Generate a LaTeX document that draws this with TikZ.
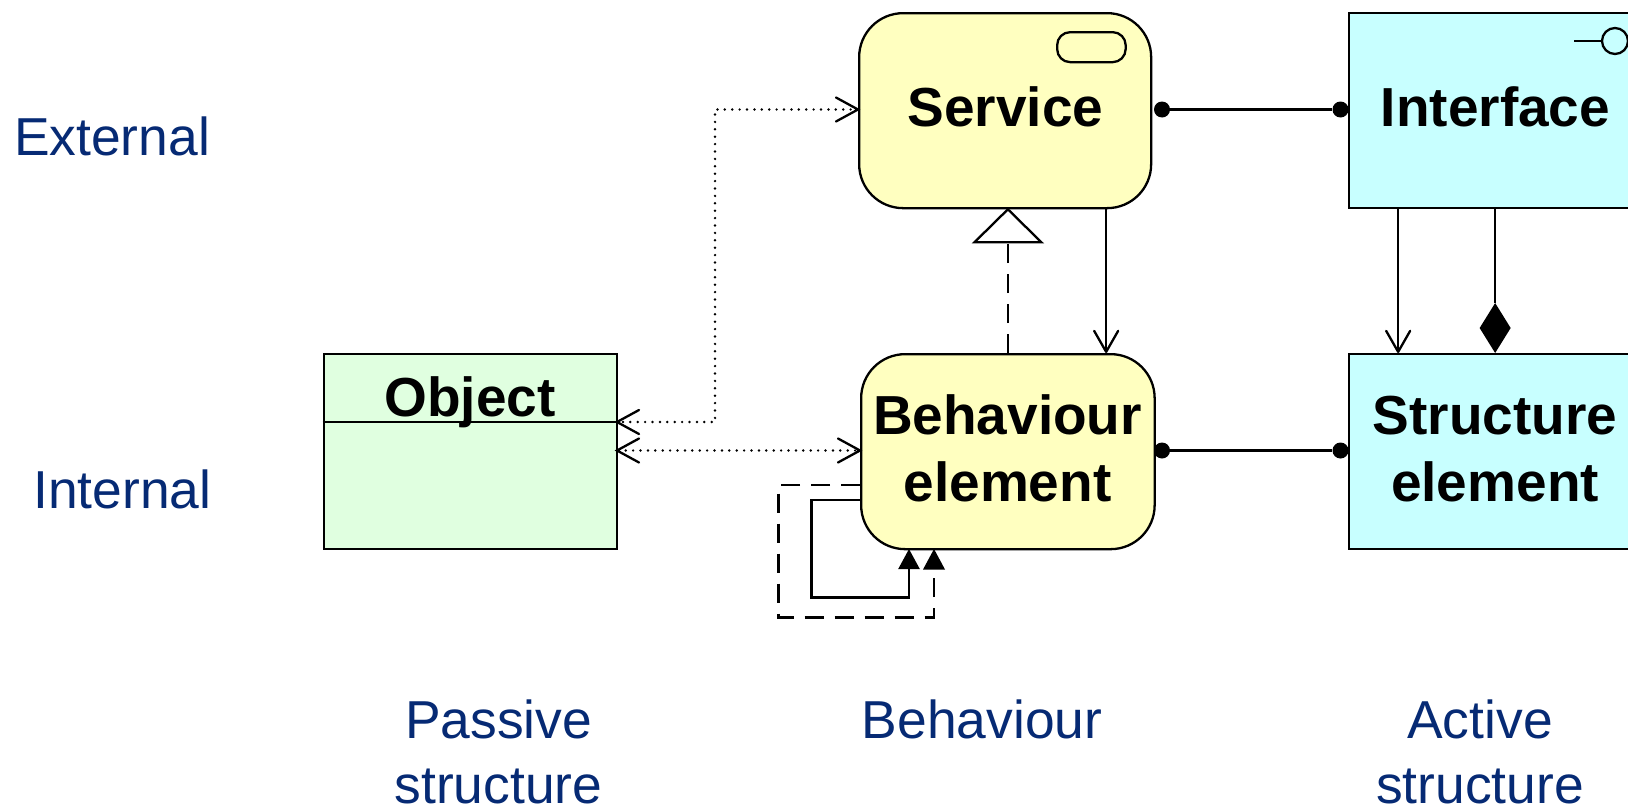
\documentclass[tikz,border=0pt]{standalone}
\usepackage{fontspec}
\setmainfont{Liberation Sans}
\usetikzlibrary{calc,arrows.meta}
\definecolor{yel}{HTML}{FFFFC0}
\definecolor{cya}{HTML}{C8FFFF}
\definecolor{grn}{HTML}{E0FFE0}
\definecolor{navy}{HTML}{062A74}
\tikzset{
  x=1pt,y=-1pt,
  ln/.style={line width=2.3pt,black},
  box/.style={draw=black,line width=2.3pt,inner sep=0pt,anchor=north west},
  svcbox/.style={box,fill=yel,rounded corners=44pt},
  actbox/.style={box,fill=cya},
  pasbox/.style={box,fill=grn},
  ttl/.style={font=\fontsize{55}{65}\selectfont\bfseries,anchor=base,inner sep=0pt,text=black},
  lab/.style={font=\fontsize{53.4}{65}\selectfont,anchor=base,inner sep=0pt,text=navy},
  opena/.style={-{Straight Barb[length=21pt,width=24pt,line width=2.3pt,round]}},
  dots/.style={line width=2.7pt,black,dash pattern=on 0pt off 7.4pt,line cap=round},
  dash1/.style={ln,dash pattern=on 19pt off 11pt},
  filla/.style={-{Triangle[length=20pt,width=21pt,fill=black]}},
  dotn/.style={circle,fill=black,inner sep=0pt,minimum size=16pt},
}
\begin{document}
\begin{tikzpicture}
\clip (0,0) rectangle (1628,806);
\path[fill=white] (0,0) rectangle (1628,806);
% boxes
\node[svcbox,minimum width=292pt,minimum height=195pt] (svc) at (858,12) {};
\node[svcbox,minimum width=293.5pt,minimum height=195pt] (beh) at (860,353) {};
\node[actbox,minimum width=292pt,minimum height=195pt] (ifc) at (1348,12) {};
\node[actbox,minimum width=292pt,minimum height=195pt] (str) at (1348,353) {};
\node[pasbox,minimum width=293.5pt,minimum height=195pt] (obj) at (322.5,353) {};
\draw[ln] (obj.west |- 0,422) coordinate (d1) -- (obj.east |- 0,422) coordinate (objd);
% icons
\node[draw=black,line width=2.3pt,rounded corners=13pt,minimum width=68.5pt,minimum height=30pt,inner sep=0pt,anchor=north west] (ico) at (1056,31) {};
\node[draw=black,line width=2.3pt,circle,inner sep=0pt,minimum size=26pt] (ici) at (1615,41) {};
\coordinate (icl) at (1574,41);
\draw[ln] (icl) -- (ici.west);
% titles
\node[ttl] (t1) at (1005.5,126) {Service};
\node[ttl] (t2) at (1495.5,126) {Interface};
\node[ttl] (t3) at (470,416.5) {Object};
\node[ttl] (t4) at (1007.5,434.5) {Behaviour};
\node[ttl] (t5) at (1007.5,501.5) {element};
\node[ttl] (t6) at (1495,434.5) {Structure};
\node[ttl] (t7) at (1495,501.5) {element};
% labels
\node[lab] (l1) at (112,155.5) {External};
\node[lab] (l2) at (122.5,508.5) {Internal};
\node[lab] (l3) at (498.5,738.5) {Passive};
\node[lab] (l4) at (498.5,803.5) {structure};
\node[lab] (l5) at (982,738.5) {Behaviour};
\node[lab] (l6) at (1480,738.5) {Active};
\node[lab] (l7) at (1480,803.5) {structure};
% assignment
\node[dotn] (a1) at (1162,109.5) {};
\node[dotn] (a2) at (1340.5,109.5) {};
\draw[ln] (a1) -- (a2);
\node[dotn] (b1) at (1162,450.5) {};
\node[dotn] (b2) at (1340.5,450.5) {};
\draw[ln] (b1) -- (b2);
% used by
\coordinate (u1) at ([xshift=101pt]svc.south);
\draw[ln,opena] (u1) -- (u1 |- beh.north);
\draw[ln,opena] ([xshift=-97pt]ifc.south) -- ([xshift=-97pt]str.north);
% composition
\coordinate (ct) at ([yshift=50pt]str.north);
\draw[ln] (ifc.south) -- (ct);
\fill[black] (str.north) -- ++(-15.5,-25) -- ++(15.5,-25) -- ++(15.5,25) -- cycle;
% realisation
\draw[dash1] (beh.north) -- (beh.north |- svc.south);
\draw[ln,fill=white,line join=miter] (svc.south -| beh.north) -- ++(-33.5,33) -- ++(67,0) -- cycle;
% access
\coordinate (p1) at (715,109.5);
\coordinate (p2) at (715,422);
\draw[dots] (svc.west |- p1) -- (p1) -- (p2) -- (obj.east |- p2);
\draw[ln,line cap=round] (836,97.5) -- (858,109.5) -- (836,121.5);
\draw[dots] (obj.east |- 0,450.5) -- (beh.west |- 0,450.5);
\foreach \yy in {422,450.5}{\draw[ln,line cap=round] (639,\yy-12) -- (617,\yy) -- (639,\yy+12);}
\draw[ln,line cap=round] (838,438.5) -- (860,450.5) -- (838,462.5);
% triggering / flow
\draw[ln,filla] (beh.west |- 0,500) coordinate (e1) -| (811.5,597.5) -| (909,549);
\draw[dash1] (beh.west |- 0,485) coordinate (e2) -| (778.5,617.5) -| (934,569);
\fill[black] (934,549) -- ++(-11,20.5) -- ++(22,0) -- cycle;
\end{tikzpicture}
\end{document}
